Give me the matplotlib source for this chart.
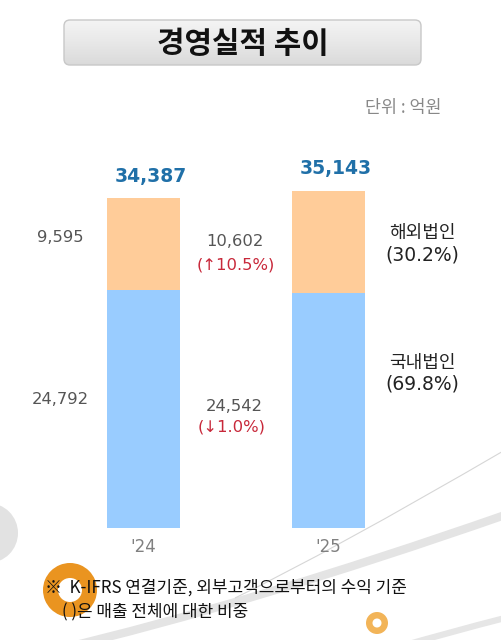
import numpy as np
import matplotlib
matplotlib.use("Agg")
import matplotlib.pyplot as plt
from matplotlib.patches import FancyBboxPatch, Circle, Wedge
from matplotlib.path import Path
from matplotlib.patches import PathPatch

# ---- data ----
years = ["'24", "'25"]
domestic = [24792, 24542]
overseas = [9595, 10602]
totals = [34387, 35143]
overseas_change = "(↑10.5%)"
domestic_change = "(↓1.0%)"
overseas_name = "해외법인"
domestic_name = "국내법인"
overseas_share = "(30.2%)"
domestic_share = "(69.8%)"
title = "경영실적 추이"
unit = "단위 : 억원"
notes = ["※  K-IFRS 연결기준, 외부고객으로부터의 수익 기준", "( )은 매출 전체에 대한 비중"]

W, H = 502, 640
fig = plt.figure(figsize=(W / 100, H / 100), dpi=100)
fig.patch.set_facecolor("white")

KR = ["Noto Sans CJK KR", "DejaVu Sans"]
NUM = ["DejaVu Sans", "Noto Sans CJK KR"]

# ---- background/decoration axes in pixel coords ----
bg = fig.add_axes([0, 0, 1, 1], zorder=0)
bg.set_xlim(0, W)
bg.set_ylim(H, 0)
bg.axis("off")

def curve(pts, **kw):
    codes = [Path.MOVETO] + [Path.CURVE3] * (len(pts) - 1)
    bg.add_patch(PathPatch(Path(pts, codes), fill=False, **kw))

curve([(55, 650), (250, 604), (505, 515)], edgecolor="#e4e4e4", lw=6, capstyle="butt")
curve([(235, 598), (330, 552), (505, 450)], edgecolor="#d6d6d6", lw=0.8)
curve([(395, 648), (450, 632), (505, 618)], edgecolor="#e6e6e6", lw=4.5, capstyle="butt")
bg.add_patch(Circle((-12, 533), 30, facecolor="#e2e2e2", edgecolor="none"))
bg.add_patch(Wedge((70, 590), 27, 0, 360, width=15, facecolor="#ea9420", edgecolor="none"))
bg.add_patch(Wedge((377, 623), 11, 0, 360, width=6.5, facecolor="#f2b458", edgecolor="none"))

# title box with gradient
box = FancyBboxPatch((64, 20), 357, 45, boxstyle="round,pad=0,rounding_size=6",
                     facecolor="none", edgecolor="#c8c8c8", lw=1.0, zorder=3)
bg.add_patch(box)
grad = np.linspace(0, 1, 100).reshape(-1, 1)
im = bg.imshow(grad, extent=(64, 421, 65, 20), cmap=matplotlib.colors.LinearSegmentedColormap.from_list(
    "g", ["#f4f4f4", "#e8e8e8", "#dadada"]), aspect="auto", zorder=2, origin="upper")
im.set_clip_path(box)
bg.set_xlim(0, W)
bg.set_ylim(H, 0)
fig.text(243 / W, 1 - 44 / H, title, family=KR, fontsize=21.5, weight="bold",
         color="#111111", ha="center", va="center", zorder=5)
fig.text(442 / W, 1 - 108 / H, unit, family=KR, fontsize=12.5, color="#888888",
         ha="right", va="center")

# ---- main chart axes ----
px_per_unit = 185.0
x0 = 143.5
bottom_px = 528
top_px = 150
scale = (bottom_px - 191) / totals[1]  # px per value
ax = fig.add_axes([0, 1 - bottom_px / H, 1, (bottom_px - top_px) / H], zorder=1)
ax.patch.set_alpha(0)
ax.set_xlim(-x0 / px_per_unit, (W - x0) / px_per_unit)
ax.set_ylim(0, (bottom_px - top_px) / scale)
ax.axis("off")

x = np.arange(len(years))
bw = 73 / px_per_unit
ax.bar(x, domestic, width=bw, color="#99ccff", edgecolor="none")
ax.bar(x, overseas, width=bw, bottom=domestic, color="#ffcc99", edgecolor="none")

for i, t in enumerate(totals):
    ax.annotate(f"{t:,}", (x[i], t), xytext=(5, 16), textcoords="offset points",
                ha="center", va="center", fontsize=13.5, weight="bold", color="#2070a8",
                family=NUM)
    ax.annotate(years[i], (x[i], 0), xytext=(0, -14), textcoords="offset points",
                ha="center", va="center", fontsize=12, color="#808080", family=NUM)

grey = "#555555"
red = "#c8283a"

def lab(txt, xv, yv, dx, dy, color, size=11.8, fam=NUM):
    ax.annotate(txt, (xv, yv), xytext=(dx, dy), textcoords="offset points",
                ha="center", va="center", fontsize=size, color=color, family=fam)

ov_mid = [d + o * 0.5 for d, o in zip(domestic, overseas)]
dom_mid = [d * 0.5 for d in domestic]

# left labels for '24
lab(f"{overseas[0]:,}", x[0], ov_mid[0], -60, 5, grey)
lab(f"{domestic[0]:,}", x[0], dom_mid[0], -60, 7, grey)
# middle labels for '25
mid = (x[0] + x[1]) / 2
lab(f"{overseas[1]:,}", mid, ov_mid[1], -1, 0, grey)
lab(overseas_change, mid, ov_mid[1], 0, -16.5, red)
lab(f"{domestic[1]:,}", mid, dom_mid[1], -1, 3, grey)
lab(domestic_change, mid, dom_mid[1], -3, -12, red)

# right side names
rx = x[1] + 94 / px_per_unit
lab(overseas_name, rx, ov_mid[1], 0, 6.5, "#222222", 13, KR)
lab(overseas_share, rx, ov_mid[1], 0, -9.4, "#222222", 13.5)
lab(domestic_name, rx, dom_mid[1], 0, 34, "#222222", 13, KR)
lab(domestic_share, rx, dom_mid[1], 0, 18.7, "#222222", 13.5)

# footnotes
fig.text(45 / W, 1 - 588 / H, notes[0], family=KR, fontsize=12.2, color="#111111",
         ha="left", va="center", zorder=6)
fig.text(62 / W, 1 - 612 / H, notes[1], family=KR, fontsize=12.2, color="#111111",
         ha="left", va="center", zorder=6)

fig.savefig("out.png", dpi=100, facecolor="white")
